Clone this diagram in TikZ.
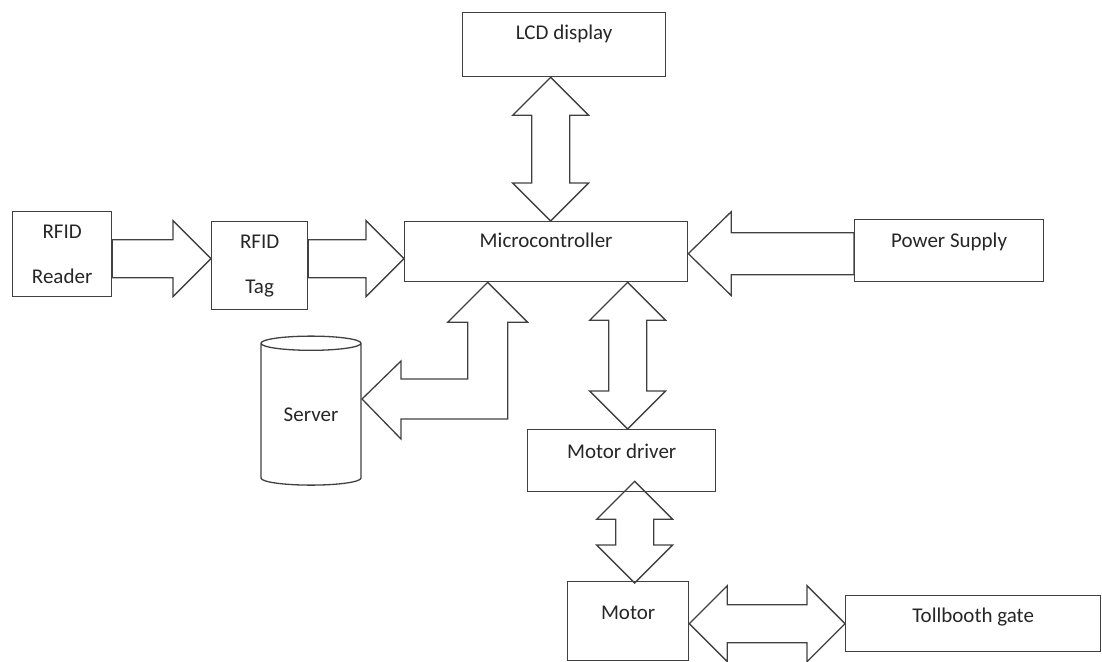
\documentclass[tikz,border=0pt]{standalone}
\usepackage{fontspec}
\setmainfont{Carlito}
\usepackage{tikz}
\usetikzlibrary{positioning}
\usetikzlibrary{calc}
\usetikzlibrary{shapes.geometric}

% block arrow sizes: head length, head half width, shaft half width
\def\hl{38pt}
\def\hw{38pt}
\def\sw{19pt}

% two headed block arrow between two points
\newcommand{\twoway}[2]{%
    \coordinate (ba) at (#1);
    \coordinate (bb) at (#2);
    \draw[blockarrow] (ba)
        -- ($(ba)!\hl!(bb)!\hw!90:(bb)$) -- ($(ba)!\hl!(bb)!\sw!90:(bb)$)
        -- ($(bb)!\hl!(ba)!\sw!-90:(ba)$) -- ($(bb)!\hl!(ba)!\hw!-90:(ba)$)
        -- (bb)
        -- ($(bb)!\hl!(ba)!\hw!90:(ba)$) -- ($(bb)!\hl!(ba)!\sw!90:(ba)$)
        -- ($(ba)!\hl!(bb)!\sw!-90:(bb)$) -- ($(ba)!\hl!(bb)!\hw!-90:(bb)$)
        -- cycle;}

% one headed block arrow, tail first
\newcommand{\oneway}[2]{%
    \coordinate (ta) at (#1);
    \coordinate (tb) at (#2);
    \draw[blockarrow] ($(ta)!\sw!90:(tb)$)
        -- ($(tb)!\hl!(ta)!\sw!-90:(ta)$) -- ($(tb)!\hl!(ta)!\hw!-90:(ta)$)
        -- (tb)
        -- ($(tb)!\hl!(ta)!\hw!90:(ta)$) -- ($(tb)!\hl!(ta)!\sw!90:(ta)$)
        -- ($(ta)!\sw!-90:(tb)$) -- cycle;}

\begin{document}
\begin{tikzpicture}[x=1pt, y=-1pt,
    box/.style={draw=black!75, line width=1.3pt, inner sep=0pt, anchor=north west,
        text=black!85, font=\fontsize{21}{25}\selectfont},
    db/.style={draw=black!75, line width=1.3pt, inner sep=0pt, cylinder, shape border rotate=90,
        aspect=0.26, text=black!85, font=\fontsize{21}{25}\selectfont},
    blockarrow/.style={draw=black!75, line width=1.3pt, line join=miter}]

    \useasboundingbox (0,0) rectangle (1102,661);

    \node [box, minimum width=283pt, text height=26pt, text depth=34pt] (mcu) at (404,221) {Microcontroller};
    \node [box, minimum width=203pt, text height=27pt, text depth=37pt] (lcd) at (462,12) {LCD display};
    \node [box, minimum width=189pt, text height=28pt, text depth=34pt] (power) at (854,219) {Power Supply};

    % rfid
    \node [box, minimum width=99pt, minimum height=85pt, align=center] (reader) at (12,211) {RFID\\[20pt]Reader};
    \node [box, minimum width=96pt, minimum height=88pt, align=center] (tag) at (211,221) {RFID\\[20pt]Tag};

    \node [db, minimum width=100pt, minimum height=149pt] (server) at (311,414.5) {Server};

    % motor side
    \node [box, minimum width=188pt, text height=29pt, text depth=33pt] (driver) at (527,429) {Motor driver};
    \node [box, minimum width=121pt, text height=38pt, text depth=41pt] (motor) at (567,581) {Motor};
    \node [box, minimum width=255pt, text height=27pt, text depth=29pt] (gate) at (845,595) {Tollbooth gate};

    \twoway{[xshift=-13.5pt]lcd.south}{[xshift=4.5pt]mcu.north}
    \twoway{[xshift=81.5pt]mcu.south}{[xshift=6pt]driver.north}
    \twoway{[xshift=13pt, yshift=11pt]driver.south}{[xshift=6.5pt, yshift=-2pt]motor.north}
    \twoway{[yshift=-2.5pt]motor.east}{gate.west}

    \oneway{[yshift=-4.5pt]reader.east}{[yshift=7pt]tag.west}
    \oneway{[yshift=7pt]tag.east}{[yshift=-7pt]mcu.west}
    {\def\hl{43pt}\def\hw{42pt}\def\sw{21pt}
     \oneway{[yshift=-3pt]power.west}{[yshift=-2pt]mcu.east}}

    % server link
    \coordinate (up) at ([xshift=-58.5pt]mcu.south);
    \coordinate (lt) at ([xshift=51pt, yshift=15.5pt]server.center);
    \draw[blockarrow] (up) -- ++(-40,40) -- ++(20,0) |- ($(lt)+(39,-20)$) -- ++(0,-18) -- (lt)
        -- ++(39,40) -- ++(0,-20) -| ($(up)+(20,40)$) -- ++(20,0) -- cycle;

\end{tikzpicture}
\end{document}
